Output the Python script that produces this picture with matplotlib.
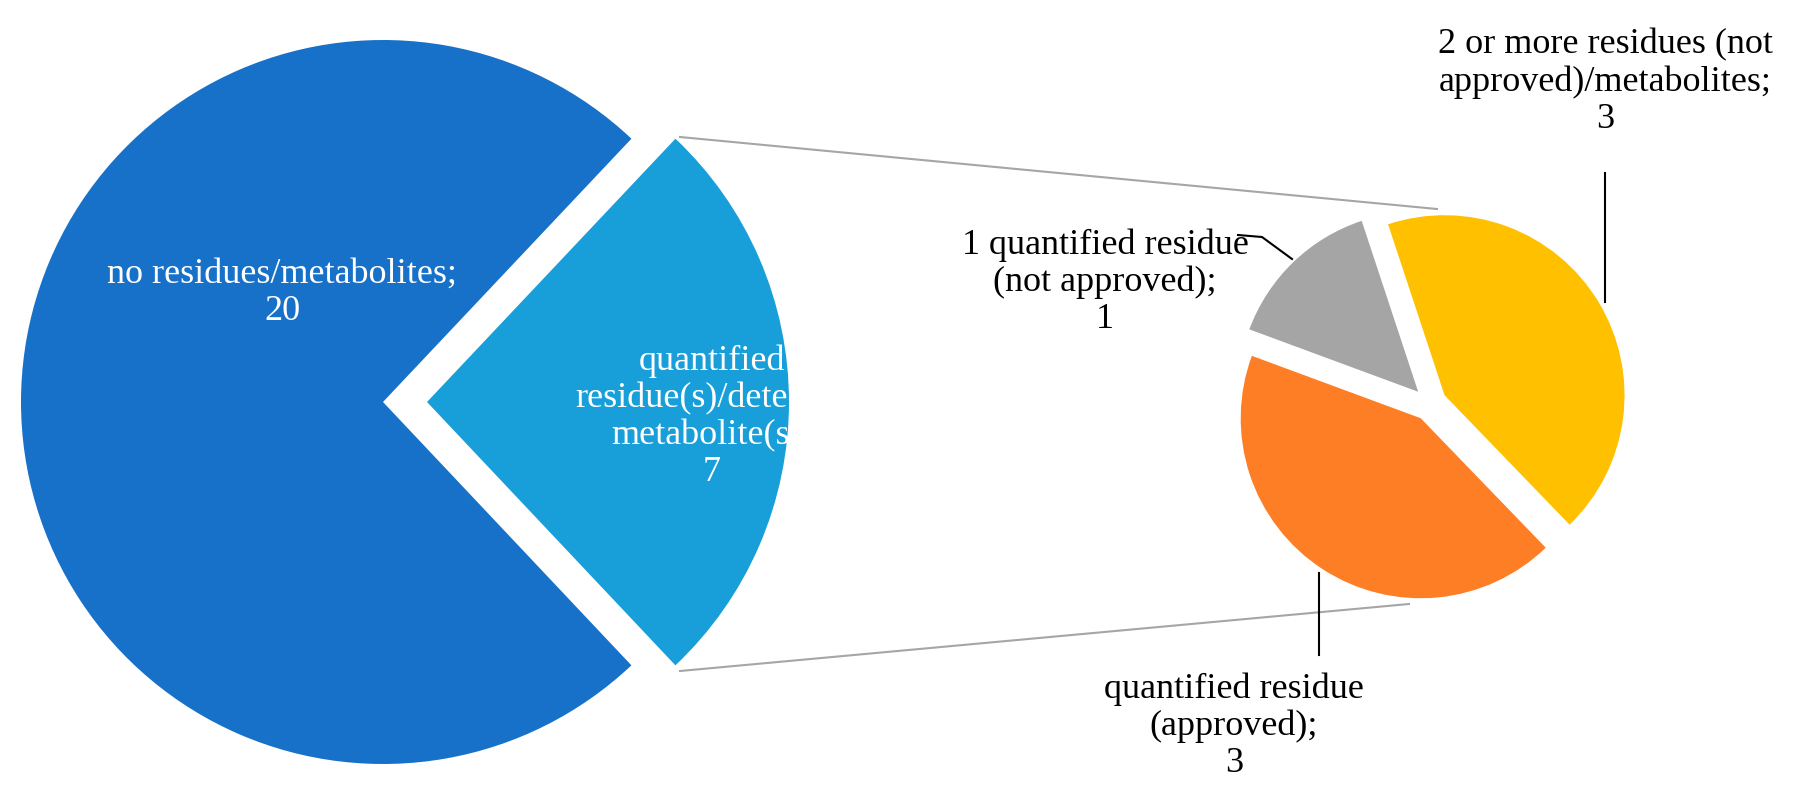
import matplotlib.pyplot as plt

# main pie
main_labels = ["quantified\nresidue(s)/detected\nmetabolite(s);\n7", "no residues/metabolites;\n20"]
main_values = [7, 20]
main_colors = ["#189FDA", "#1771C9"]

# secondary pie (breakdown of the 7)
sub_labels = ["2 or more residues (not\napproved)/metabolites;\n3",
              "1 quantified residue\n(not approved);\n1",
              "quantified residue\n(approved);\n3"]
sub_values = [3, 1, 3]
sub_colors = ["#FFC000", "#A5A5A5", "#FD7E25"]

H = 804
fig = plt.figure(figsize=(18, 8.04), dpi=100)
ax = fig.add_axes([0, 0, 1, 1])

# explode is in data units (pixels here)
ax.pie(main_values, colors=main_colors, center=(383, H - 403), radius=362,
       explode=[44, 0], startangle=-46.67, counterclock=True,
       wedgeprops=dict(linewidth=0))
ax.pie(sub_values, colors=sub_colors, center=(1430, H - 405), radius=180,
       explode=[17, 17, 17], startangle=-46, counterclock=True,
       wedgeprops=dict(linewidth=0))

# connector lines between the pies
ax.plot([680, 1437], [H - 138, H - 210], color="#A6A6A6", lw=1.5)
ax.plot([680, 1409], [H - 672, H - 605], color="#A6A6A6", lw=1.5)

font = dict(family="Liberation Serif", size=26, ha="center", va="center", linespacing=1.15)
ax.text(282, H - 293, main_labels[1], color="white", **font)
ax.text(712, H - 417, main_labels[0], color="white", **font)
ax.text(1605, H - 82, sub_labels[0], color="black", **font)
ax.text(1105, H - 282, sub_labels[1], color="black", **font)
ax.text(1234, H - 726, sub_labels[2], color="black", **font)

# leader lines
ax.plot([1605, 1605], [H - 174, H - 303], color="black", lw=1.5)
ax.plot([1238, 1262, 1292], [H - 236, H - 238, H - 260], color="black", lw=1.5)
ax.plot([1319, 1319], [H - 574, H - 656], color="black", lw=1.5)

ax.set_xlim(0, 1800)
ax.set_ylim(0, H)
ax.set_aspect("auto")
ax.axis("off")

plt.savefig("out.png", dpi=100)
